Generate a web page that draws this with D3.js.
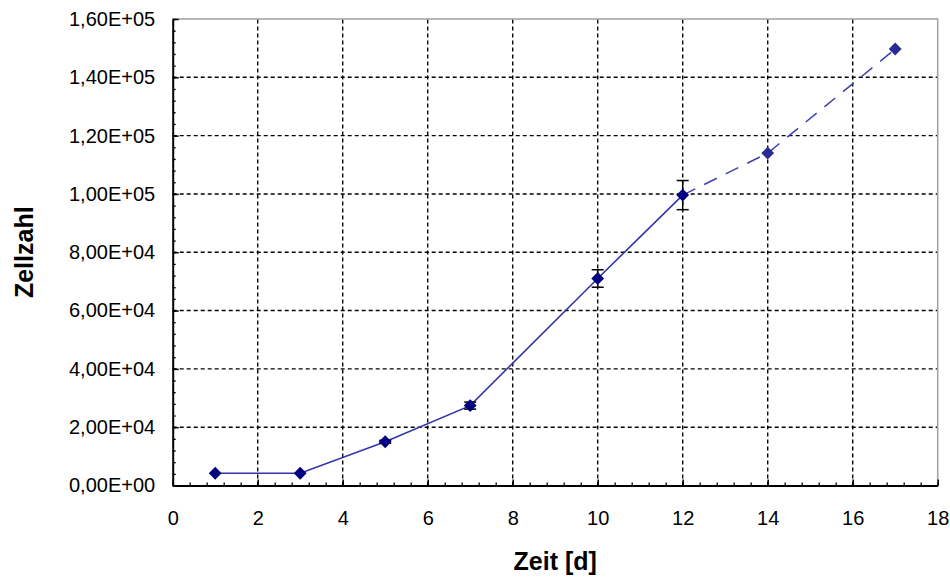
<!DOCTYPE html>
<html>
<head>
<meta charset="utf-8">
<script src="https://cdn.jsdelivr.net/npm/d3@7"></script>
<style>
    body { margin: 0; background: #fff; }
    .tick-label { font-family: "Liberation Sans", Arial, sans-serif; font-size: 20px; fill: #000; }
    .axis-title { font-family: "Liberation Sans", Arial, sans-serif; font-size: 25px; font-weight: bold; fill: #000; }
</style>
</head>
<body>
<svg id="chart"></svg>
<script>
// Messwerte (Tag, Zellzahl, Fehler)
const measuredDays = [1, 3, 5, 7, 10, 12];
const measuredCounts = [4200, 4200, 15000, 27400, 71000, 99600];
const measuredErrors = [0, 0, 500, 1200, 3000, 5000];

// gestrichelte Fortsetzung
const extraDays = [12, 14, 17];
const extraCounts = [99600, 114000, 149700];

// Achsen-Ticks
const xTicks = [0, 2, 4, 6, 8, 10, 12, 14, 16, 18];
const yTicks = [0, 20000, 40000, 60000, 80000, 100000, 120000, 140000, 160000];

const width = 950;
const height = 577;
const margin = { top: 19, right: 12.3, bottom: 91.5, left: 172.7 };

const svg = d3.select("#chart")
    .attr("width", width)
    .attr("height", height);

const x = d3.scaleLinear()
    .domain([0, 18])
    .range([margin.left, width - margin.right]);

const y = d3.scaleLinear()
    .domain([0, 160000])
    .range([height - margin.bottom, margin.top]);

// Zahlenformat wie Excel: 1,60E+05
const fmt = v => {
    const [m, e] = v.toExponential(2).split("e");
    const sign = e[0] === "-" ? "-" : "+";
    const ex = e.replace(/[+-]/, "").padStart(2, "0");
    return m.replace(".", ",") + "E" + sign + ex;
};

// Gitterlinien (gestrichelt)
svg.append("g")
    .selectAll("line")
    .data(xTicks.filter(d => d > 0 && d < 18))
    .enter()
    .append("line")
    .attr("x1", d => x(d)).attr("x2", d => x(d))
    .attr("y1", y(0)).attr("y2", y(160000))
    .attr("stroke", "#000")
    .attr("stroke-width", 1.4)
    .attr("stroke-dasharray", "4,3");

svg.append("g")
    .selectAll("line")
    .data(yTicks.filter(d => d > 0 && d < 160000))
    .enter()
    .append("line")
    .attr("x1", x(0)).attr("x2", x(18))
    .attr("y1", d => y(d)).attr("y2", d => y(d))
    .attr("stroke", "#000")
    .attr("stroke-width", 1.4)
    .attr("stroke-dasharray", "4,3");

// Rahmen oben und rechts (grau)
svg.append("path")
    .attr("d", `M${x(0)},${y(160000)}H${x(18)}V${y(0)}`)
    .attr("fill", "none")
    .attr("stroke", "#a0a0a0")
    .attr("stroke-width", 1.5);

// Nebenticks
svg.append("g")
    .attr("transform", `translate(0,${y(0)})`)
    .call(d3.axisBottom(x).tickValues(d3.range(0, 18.01, 0.4)).tickSizeInner(-3).tickSizeOuter(0).tickFormat(""))
    .call(g => g.select(".domain").remove())
    .selectAll("line").attr("stroke-width", 1.3);

svg.append("g")
    .attr("transform", `translate(${x(0)},0)`)
    .call(d3.axisLeft(y).tickValues(d3.range(0, 160001, 4000)).tickSizeInner(-3).tickSizeOuter(0).tickFormat(""))
    .call(g => g.select(".domain").remove())
    .selectAll("line").attr("stroke-width", 1.3);

// X-Achse
svg.append("g")
    .attr("transform", `translate(0,${y(0)})`)
    .call(d3.axisBottom(x).tickValues(xTicks).tickSizeInner(-6).tickSizeOuter(0).tickPadding(25))
    .call(g => g.select(".domain").attr("stroke-width", 2))
    .call(g => g.selectAll("line").attr("stroke-width", 1.5))
    .selectAll("text")
    .attr("class", "tick-label");

// Y-Achse
svg.append("g")
    .attr("transform", `translate(${x(0)},0)`)
    .call(d3.axisLeft(y).tickValues(yTicks).tickSizeInner(-6).tickSizeOuter(0).tickPadding(17.5).tickFormat(fmt))
    .call(g => g.select(".domain").attr("stroke-width", 2))
    .call(g => g.selectAll("line").attr("stroke-width", 1.5))
    .selectAll("text")
    .attr("class", "tick-label");

// Achsentitel
svg.append("text")
    .attr("class", "axis-title")
    .attr("x", (x(0) + x(18)) / 2)
    .attr("y", 570)
    .attr("text-anchor", "middle")
    .text("Zeit [d]");

svg.append("text")
    .attr("class", "axis-title")
    .attr("transform", "rotate(-90)")
    .attr("x", -(y(0) + y(160000)) / 2)
    .attr("y", 33)
    .attr("text-anchor", "middle")
    .text("Zellzahl");

const measured = measuredDays.map((d, i) => ({ day: d, count: measuredCounts[i], err: measuredErrors[i] }));
const extra = extraDays.map((d, i) => ({ day: d, count: extraCounts[i] }));

const line = d3.line()
    .x(d => x(d.day))
    .y(d => y(d.count));

// gestrichelte Linie
svg.append("path")
    .datum(extra)
    .attr("d", line)
    .attr("fill", "none")
    .attr("stroke", "#4040b0")
    .attr("stroke-width", 1.5)
    .attr("stroke-dasharray", "14,10");

// durchgezogene Linie
svg.append("path")
    .datum(measured)
    .attr("d", line)
    .attr("fill", "none")
    .attr("stroke", "#3333aa")
    .attr("stroke-width", 1.6);

// Fehlerbalken
const errG = svg.append("g")
    .attr("stroke", "#000")
    .attr("stroke-width", 1.5);

measured.filter(d => d.err > 0).forEach(d => {
    const cx = x(d.day);
    const y1 = y(d.count + d.err);
    const y2 = y(d.count - d.err);
    errG.append("line").attr("x1", cx).attr("x2", cx).attr("y1", y1).attr("y2", y2);
    errG.append("line").attr("x1", cx - 6).attr("x2", cx + 6).attr("y1", y1).attr("y2", y1);
    errG.append("line").attr("x1", cx - 6).attr("x2", cx + 6).attr("y1", y2).attr("y2", y2);
});

// Rauten-Marker
const diamond = d3.symbol().type(d3.symbolDiamond2).size(105);

svg.append("g")
    .selectAll("path")
    .data(extra.slice(1))
    .enter()
    .append("path")
    .attr("d", diamond)
    .attr("transform", d => `translate(${x(d.day)},${y(d.count)})`)
    .attr("fill", "#2a2a96");

svg.append("g")
    .selectAll("path")
    .data(measured)
    .enter()
    .append("path")
    .attr("d", diamond)
    .attr("transform", d => `translate(${x(d.day)},${y(d.count)})`)
    .attr("fill", "#000080");
</script>
</body>
</html>
